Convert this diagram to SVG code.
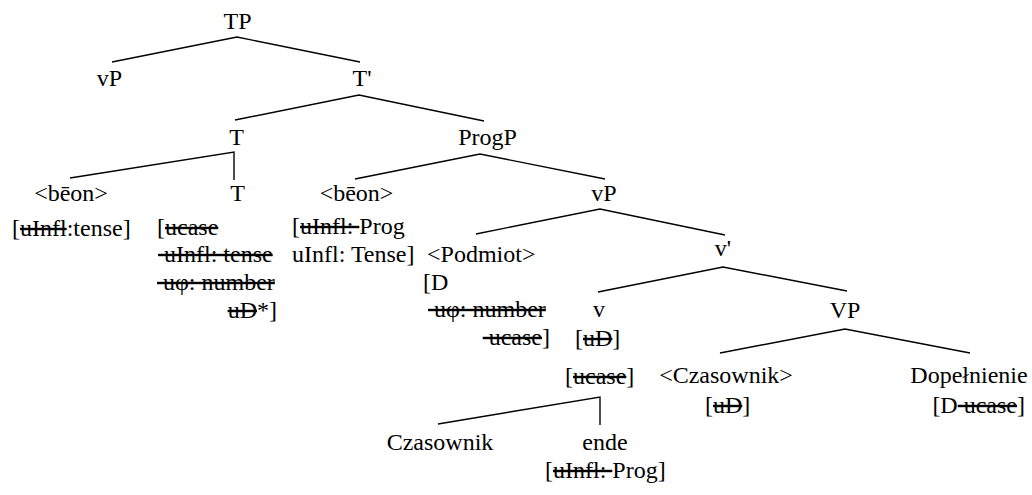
<svg xmlns="http://www.w3.org/2000/svg" width="1032" height="495" viewBox="0 0 1032 495">
<style>
.t{font-family:'Liberation Serif',serif;font-size:24px;fill:#000;white-space:pre}
.c{text-anchor:middle}
.e{text-anchor:end}
.s{text-decoration:line-through}
.ln{fill:none;stroke:#000;stroke-width:1.4}
</style>
<rect width="1032" height="495" fill="#fff"/>
<g id="connectors">
<polyline class="ln" points="112,62 237,37 360,62"/>
<polyline class="ln" points="235,120 359,95 484,121"/>
<polyline class="ln" points="70,178 234,152 234,180"/>
<polyline class="ln" points="355,179 480,154 605,179"/>
<polyline class="ln" points="476,234 600,209 725,235"/>
<polyline class="ln" points="598,292 723,267 847,291"/>
<polyline class="ln" points="720,353 845,329 970,353"/>
<polyline class="ln" points="438,424 600,397 600,425"/>
</g>
<g id="TP"><text class="t c" font-family="'Liberation Serif', serif" x="237.5" y="29">TP</text></g>
<g id="vP-spec"><text class="t c" font-family="'Liberation Serif', serif" x="109.5" y="86">vP</text></g>
<g id="Tbar"><text class="t c" font-family="'Liberation Serif', serif" x="362" y="86">T'</text></g>
<g id="T"><text class="t c" font-family="'Liberation Serif', serif" x="236.5" y="145">T</text></g>
<g id="ProgP"><text class="t c" font-family="'Liberation Serif', serif" x="487.5" y="145">ProgP</text></g>
<g id="beon1">
<text class="t c" font-family="'Liberation Serif', serif" x="71" y="201">&lt;bēon&gt;</text>
<text class="t" font-family="'Liberation Serif', serif" x="12" y="236">[<tspan class="s">uInfl</tspan>:tense]</text>
</g>
<g id="T-head">
<text class="t c" font-family="'Liberation Serif', serif" x="237.5" y="201">T</text>
<text class="t" font-family="'Liberation Serif', serif" x="157" y="235">[<tspan class="s">ucase</tspan></text>
<text class="t" font-family="'Liberation Serif', serif" x="158" y="262"><tspan class="s"> uInfl: tense</tspan></text>
<text class="t" font-family="'Liberation Serif', serif" x="157" y="290"><tspan class="s"> uφ: number</tspan></text>
<text class="t e" font-family="'Liberation Serif', serif" x="277" y="318"><tspan class="s">uD</tspan>*]</text>
</g>
<g id="beon2">
<text class="t c" font-family="'Liberation Serif', serif" x="356.5" y="201">&lt;bēon&gt;</text>
<text class="t" font-family="'Liberation Serif', serif" x="292" y="234">[<tspan class="s">uInfl: </tspan>Prog</text>
<text class="t" font-family="'Liberation Serif', serif" x="292" y="262">uInfl: Tense]</text>
</g>
<g id="vP"><text class="t c" font-family="'Liberation Serif', serif" x="604" y="201">vP</text></g>
<g id="Podmiot">
<text class="t" font-family="'Liberation Serif', serif" x="427" y="262">&lt;Podmiot&gt;</text>
<text class="t" font-family="'Liberation Serif', serif" x="423" y="290">[D</text>
<text class="t" font-family="'Liberation Serif', serif" x="428" y="317"><tspan class="s"> uφ: number</tspan></text>
<text class="t e" font-family="'Liberation Serif', serif" x="550" y="345"><tspan class="s"> ucase</tspan>]</text>
</g>
<g id="vbar"><text class="t c" font-family="'Liberation Serif', serif" x="723" y="256">v'</text></g>
<g id="v">
<text class="t c" font-family="'Liberation Serif', serif" x="599" y="317">v</text>
<text class="t" font-family="'Liberation Serif', serif" x="575" y="346">[<tspan class="s">uD</tspan>]</text>
<text class="t" font-family="'Liberation Serif', serif" x="565" y="384">[<tspan class="s">ucase</tspan>]</text>
</g>
<g id="VP"><text class="t c" font-family="'Liberation Serif', serif" x="845" y="318">VP</text></g>
<g id="Czasownik-trace">
<text class="t c" font-family="'Liberation Serif', serif" x="726" y="383">&lt;Czasownik&gt;</text>
<text class="t" font-family="'Liberation Serif', serif" x="705" y="413">[<tspan class="s">uD</tspan>]</text>
</g>
<g id="Dopelnienie">
<text class="t c" font-family="'Liberation Serif', serif" x="969" y="383">Dopełnienie</text>
<text class="t e" font-family="'Liberation Serif', serif" x="1025" y="413">[D<tspan class="s"> ucase</tspan>]</text>
</g>
<g id="Czasownik"><text class="t c" font-family="'Liberation Serif', serif" x="440" y="450">Czasownik</text></g>
<g id="ende">
<text class="t c" font-family="'Liberation Serif', serif" x="605" y="450">ende</text>
<text class="t" font-family="'Liberation Serif', serif" x="545" y="478">[<tspan class="s">uInfl: </tspan>Prog]</text>
</g>
</svg>
